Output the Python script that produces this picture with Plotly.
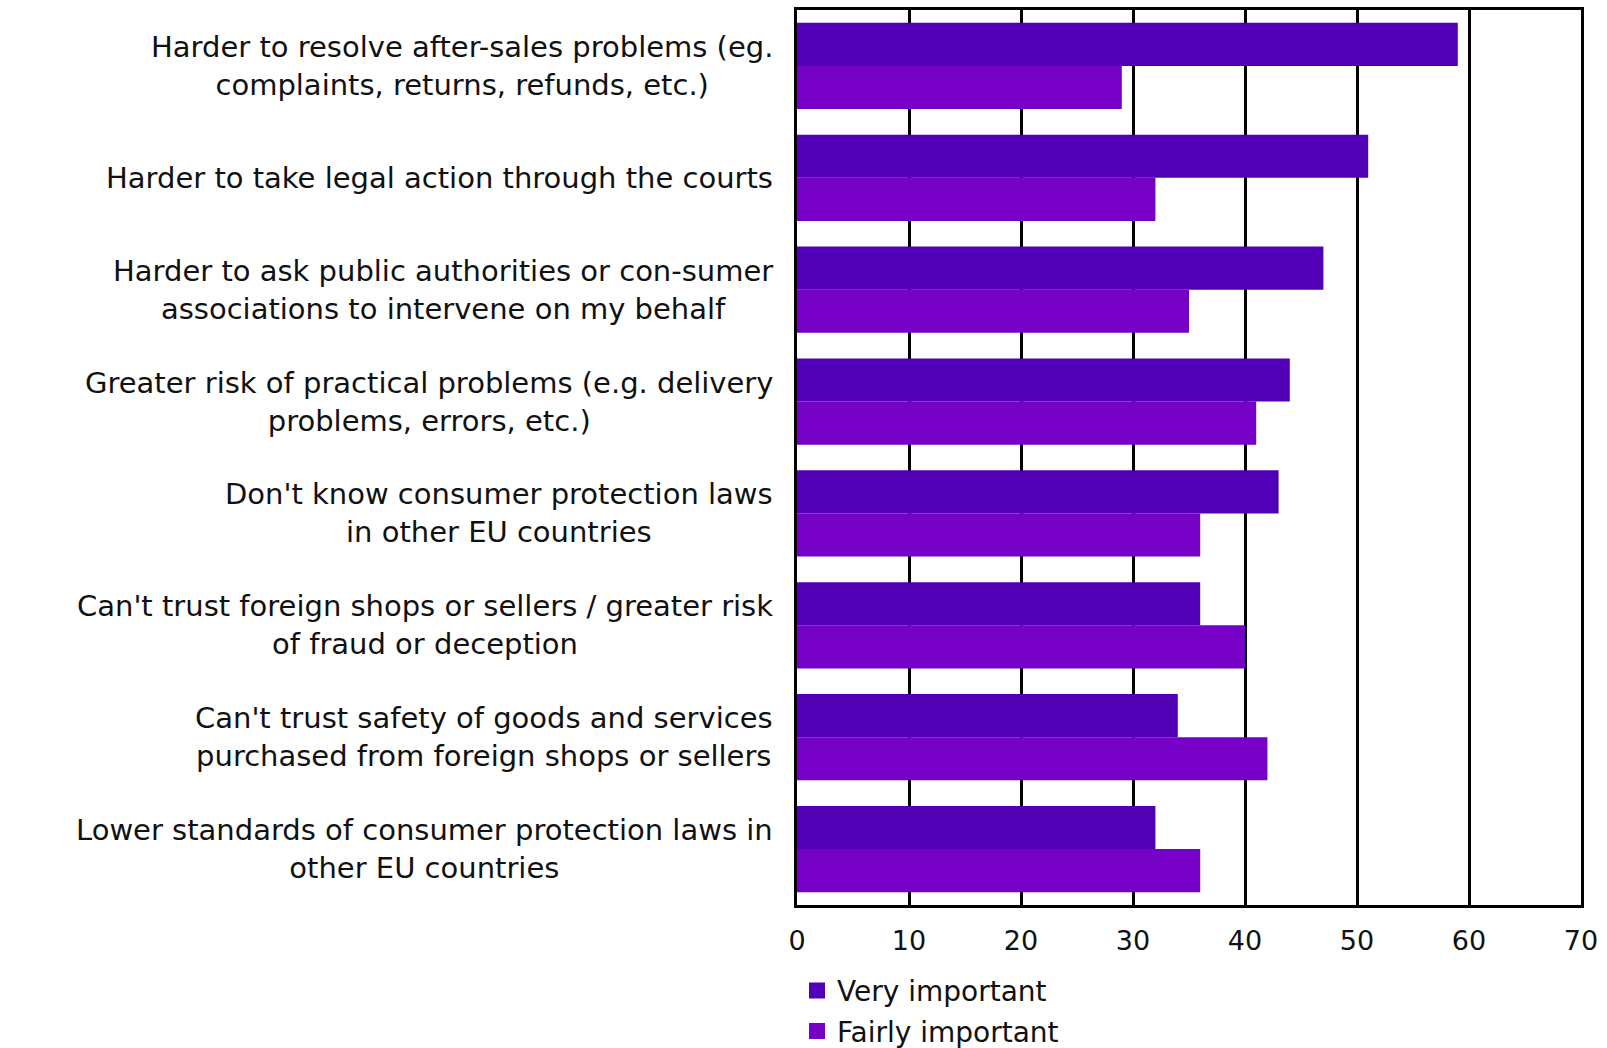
import plotly.graph_objects as go

categories = [
    "Harder to resolve after-sales problems (eg.<br>complaints, returns, refunds, etc.)",
    "Harder to take legal action through the courts",
    "Harder to ask public authorities or con-sumer<br>associations to intervene on my behalf",
    "Greater risk of practical problems (e.g. delivery<br>problems, errors, etc.)",
    "Don't know consumer protection laws<br>in other EU countries",
    "Can't trust foreign shops or sellers / greater risk<br>of fraud or deception",
    "Can't trust safety of goods and services<br>purchased from foreign shops or sellers",
    "Lower standards of consumer protection laws in<br>other EU countries",
]
very_important = [59, 51, 47, 44, 43, 36, 34, 32]
fairly_important = [29, 32, 35, 41, 36, 40, 42, 36]
x_ticks = [0, 10, 20, 30, 40, 50, 60, 70]
series_names = ["Very important", "Fairly important"]
series_colors = ["#5200B6", "#7600C6"]

FONT = "DejaVu Sans"
TXT = "#111111"

fig = go.Figure()
for name, vals, col in zip(series_names, [very_important, fairly_important], series_colors):
    fig.add_trace(go.Bar(
        y=categories, x=vals, orientation="h", name=name,
        marker=dict(color=col, line=dict(width=0)), showlegend=False,
    ))
# legend entries (larger square swatches)
for i, (name, col) in enumerate(zip(series_names, series_colors)):
    fig.add_trace(go.Scatter(
        x=[None], y=[None], mode="markers", name=name, legendgroup=str(i),
        marker=dict(symbol="square", size=16, color=col, line=dict(width=0)),
    ))

for c in categories:
    fig.add_annotation(
        x=0, xref="paper", y=c, yref="y", text=c, showarrow=False,
        xanchor="right", yanchor="middle", align="center", xshift=-22,
        font=dict(family=FONT, size=29, color=TXT),
    )

fig.update_layout(
    width=1607, height=1048,
    margin=dict(l=797, r=26, t=10, b=143, autoexpand=False),
    paper_bgcolor="white", plot_bgcolor="white",
    barmode="group", bargap=0.23, bargroupgap=0,
    showlegend=True,
    legend=dict(
        x=0, xanchor="left", y=-0.068, yanchor="top",
        font=dict(family=FONT, size=28, color=TXT),
        traceorder="grouped", tracegroupgap=1, itemsizing="trace",
        bgcolor="rgba(0,0,0,0)",
    ),
    xaxis=dict(
        range=[0, 70], tickvals=x_ticks, ticktext=[str(v) for v in x_ticks],
        showgrid=True, gridcolor="black", gridwidth=2.5,
        showline=True, linecolor="black", linewidth=3, mirror=True,
        ticks="", ticklabelstandoff=10, zeroline=False,
        tickfont=dict(family=FONT, size=27, color=TXT),
        fixedrange=True,
    ),
    yaxis=dict(
        autorange="reversed", showticklabels=False, showgrid=False,
        showline=True, linecolor="black", linewidth=3, mirror=True,
        ticks="", zeroline=False, fixedrange=True,
    ),
)

fig.write_html("out.html")
